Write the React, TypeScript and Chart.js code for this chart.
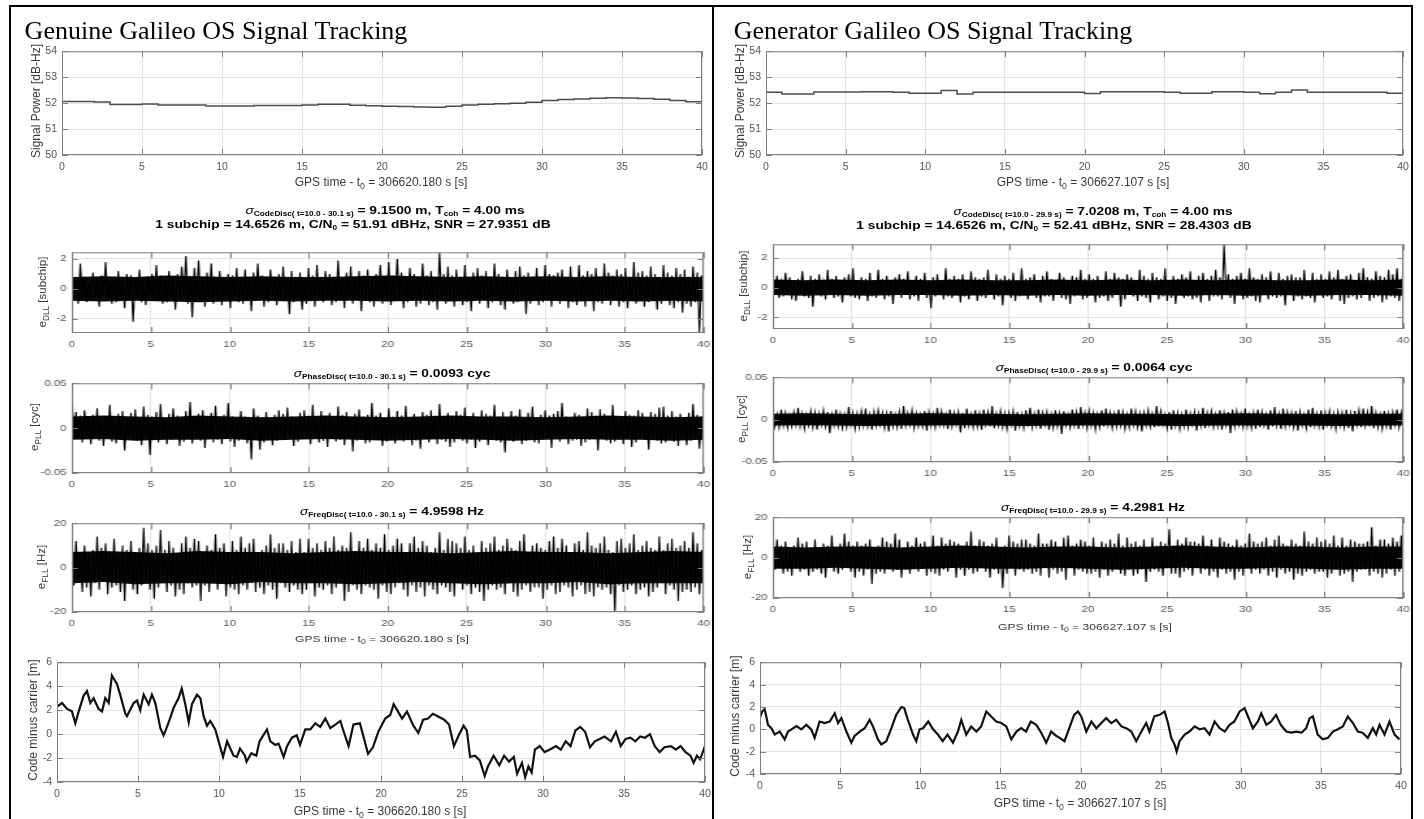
import React, { useEffect, useRef } from 'react';
import { Chart, registerables } from 'chart.js';
Chart.register(...registerables);

const SANS = '"Liberation Sans", Arial, Helvetica, sans-serif';
const SERIF = '"Liberation Serif", "Times New Roman", serif';
const TICK_COLOR = '#555555';
const LABEL_COLOR = '#3a3a3a';
const GRID_COLOR = '#e4e4e4';
const AXIS_COLOR = '#808080';

// ---------------- data ----------------
const X_TICKS = [0, 5, 10, 15, 20, 25, 30, 35, 40];
const POWER_TICKS = [50, 51, 52, 53, 54];
const DLL_TICKS = [-2, 0, 2];
const PLL_TICKS = [-0.05, 0, 0.05];
const FLL_TICKS = [-20, 0, 20];
const CMC_TICKS = [-4, -2, 0, 2, 4, 6];

const POWER_T = [0,1,2,3,4,5,6,7,8,9,10,11,12,13,14,15,16,17,18,19,20,21,22,23,24,25,26,27,28,29,30,31,32,33,34,35,36,37,38,39,40];
const POWER_GENUINE = [52.06,52.06,52.04,51.95,51.95,51.97,51.93,51.93,51.93,51.89,51.89,51.89,51.91,51.91,51.91,51.93,51.96,51.96,51.92,51.9,51.88,51.87,51.85,51.84,51.88,51.93,51.96,51.98,52.0,52.03,52.1,52.14,52.16,52.19,52.21,52.2,52.18,52.15,52.1,52.05,52.02];
const POWER_GENERATOR = [52.42,52.35,52.35,52.43,52.43,52.43,52.44,52.44,52.42,52.38,52.38,52.49,52.35,52.42,52.42,52.42,52.42,52.42,52.42,52.42,52.37,52.44,52.44,52.44,52.44,52.42,52.38,52.38,52.44,52.44,52.42,52.36,52.42,52.51,52.42,52.42,52.42,52.42,52.42,52.38,52.38];

// dense core of the discriminator noise (solid black band), every 2 s
const BAND_T = [0,2,4,6,8,10,12,14,16,18,20,22,24,26,28,30,32,34,36,38,40];
const DLL_GENUINE_HI = [0.8,0.85,0.8,0.9,0.85,0.8,0.85,0.8,0.8,0.85,0.9,0.85,0.8,0.85,0.8,0.85,0.8,0.85,0.8,0.8,0.8];
const DLL_GENUINE_LO = [-0.8,-0.85,-0.8,-0.85,-0.9,-0.85,-0.8,-0.85,-0.8,-0.8,-0.85,-0.8,-0.85,-0.8,-0.85,-0.8,-0.85,-0.8,-0.85,-0.8,-0.85];
const DLL_GENERATOR_HI = [0.55,0.5,0.55,0.5,0.55,0.5,0.55,0.5,0.5,0.55,0.5,0.55,0.5,0.55,0.5,0.55,0.5,0.5,0.55,0.5,0.55];
const DLL_GENERATOR_LO = [-0.5,-0.55,-0.5,-0.55,-0.5,-0.5,-0.55,-0.5,-0.55,-0.5,-0.55,-0.5,-0.5,-0.55,-0.5,-0.55,-0.5,-0.55,-0.5,-0.5,-0.55];
const PLL_GENUINE_HI = [.013,.014,.013,.012,.014,.013,.012,.013,.014,.013,.012,.013,.014,.013,.013,.012,.013,.014,.013,.012,.013];
const PLL_GENUINE_LO = [-.013,-.012,-.014,-.013,-.013,-.012,-.014,-.013,-.012,-.013,-.014,-.013,-.012,-.013,-.014,-.013,-.012,-.013,-.013,-.014,-.013];
const PLL_GENERATOR_HI = [.007,.0075,.007,.0065,.007,.0075,.007,.007,.0065,.007,.0075,.007,.007,.0065,.007,.0075,.007,.007,.0065,.007,.007];
const PLL_GENERATOR_LO = [-.007,-.0065,-.007,-.0075,-.007,-.007,-.0065,-.007,-.0075,-.007,-.007,-.0065,-.007,-.0075,-.007,-.007,-.0065,-.007,-.0075,-.007,-.007];
const FLL_GENUINE_HI = [7,7.5,7,6.5,7.5,7,7,6.5,7,7.5,7,7,6.5,7,7.5,7,7,6.5,7,7.5,7];
const FLL_GENUINE_LO = [-7,-6.5,-7.5,-7,-7,-7.5,-6.5,-7,-7,-7.5,-7,-6.5,-7,-7.5,-7,-7,-6.5,-7.5,-7,-7,-7];
const FLL_GENERATOR_HI = [5.5,5,5.5,5.5,5,5.5,6,5.5,5,5.5,5.5,5,5.5,6,5.5,5,5.5,5.5,5,5.5,5.5];
const FLL_GENERATOR_LO = [-5.5,-5.5,-5,-5.5,-6,-5.5,-5,-5.5,-5.5,-5,-5.5,-6,-5.5,-5,-5.5,-5.5,-5,-5.5,-6,-5.5,-5.5];

const DLL_GENUINE = [0.9,-0.8,0.6,-1.0,1.7,-0.5,0.8,-0.9,0.4,-0.7,1.1,-0.6,0.7,-1.2,0.9,-0.4,1.8,-0.8,0.5,-1.0,0.8,-0.9,1.2,-0.5,0.6,-1.3,1.0,-0.7,0.9,-2.2,0.7,-0.6,1.3,-0.9,0.5,-1.1,0.8,-0.4,1.0,-0.8,1.6,-0.7,0.9,-1.0,0.6,-0.9,1.2,-0.6,0.8,-1.4,1.0,-0.8,1.5,-0.5,2.2,-1.0,0.7,-1.9,1.4,-0.6,1.9,-0.9,0.8,-1.2,1.1,-0.7,1.7,-1.0,0.6,-0.8,1.2,-1.1,0.7,-0.6,1.0,-1.3,0.9,-0.5,1.4,-0.9,0.8,-1.0,1.3,-0.7,0.6,-1.5,1.1,-0.8,1.7,-0.6,0.9,-1.2,0.7,-0.9,1.3,-0.5,0.8,-1.1,1.0,-0.7,1.5,-0.8,0.6,-1.7,1.2,-0.9,0.8,-0.6,1.1,-1.4,0.7,-1.0,1.4,-0.8,0.9,-1.2,1.6,-0.5,0.8,-0.9,1.2,-0.7,1.0,-1.1,0.6,-0.9,1.9,-0.8,0.7,-1.3,1.1,-0.6,1.5,-1.0,0.8,-0.7,1.2,-1.5,0.9,-0.8,1.3,-0.9,0.7,-1.2,1.0,-0.6,1.6,-1.0,0.8,-0.7,1.8,-1.1,0.9,-0.8,2.0,-0.7,1.1,-1.3,0.6,-0.9,1.4,-0.8,1.0,-1.2,0.7,-1.0,1.7,-0.6,0.9,-1.1,1.2,-0.9,0.8,-1.4,2.4,-0.7,1.0,-1.0,1.5,-0.8,0.9,-1.2,1.3,-0.6,0.8,-1.1,1.6,-0.9,0.7,-1.5,1.1,-0.8,1.4,-1.0,0.9,-0.7,1.2,-1.3,0.8,-0.9,1.7,-0.6,1.0,-1.1,0.8,-1.4,1.3,-0.8,0.7,-1.0,1.2,-0.9,1.5,-0.7,0.9,-1.7,1.1,-1.0,0.8,-0.6,1.4,-1.1,0.7,-0.9,1.6,-0.8,1.0,-1.2,0.9,-0.7,1.1,-1.0,1.3,-0.6,0.8,-1.3,1.5,-0.9,0.7,-1.1,1.6,-0.8,0.9,-1.2,1.2,-0.7,1.0,-1.5,1.4,-0.9,0.8,-1.0,1.7,-0.8,1.1,-1.1,0.9,-0.7,1.3,-1.2,1.0,-0.9,1.4,-1.3,0.7,-0.8,1.8,-1.0,1.1,-0.6,1.2,-1.2,0.9,-0.9,1.5,-0.7,1.0,-1.4,0.8,-1.0,1.6,-0.8,1.1,-1.1,0.9,-1.3,1.4,-0.9,1.0,-1.6,1.3,-1.0,0.8,-1.2,1.5,-0.9,1.1,-2.9,0.9,-1.2];

const DLL_GENERATOR = [0.6,-0.5,0.8,-0.7,0.4,-0.6,1.0,-0.5,0.7,-0.8,0.5,-0.9,0.6,-0.4,1.1,-0.6,0.5,-0.7,0.8,-1.3,0.6,-0.5,0.9,-0.6,0.4,-0.8,1.2,-0.5,0.6,-0.7,0.8,-0.6,0.5,-1.0,0.7,-0.5,0.9,-0.6,1.3,-0.7,0.5,-0.8,0.7,-0.5,0.6,-0.9,1.0,-0.6,0.5,-0.7,1.2,-0.5,0.6,-0.8,0.8,-0.6,0.5,-1.1,0.7,-0.5,0.9,-0.7,0.6,-0.5,1.1,-0.8,0.5,-0.6,0.8,-0.9,0.6,-0.5,1.0,-0.7,0.5,-1.4,0.7,-0.6,0.9,-0.5,0.5,-0.8,1.3,-0.6,0.6,-0.7,0.8,-0.5,0.6,-1.0,0.9,-0.6,0.5,-0.8,1.1,-0.5,0.7,-0.9,0.6,-0.6,0.7,-0.7,1.2,-0.5,0.5,-0.8,0.9,-0.6,0.6,-1.2,0.8,-0.5,0.6,-0.7,1.0,-0.9,0.5,-0.6,1.3,-0.5,0.6,-0.8,0.7,-0.5,0.9,-0.7,0.5,-1.0,0.8,-0.6,1.1,-0.6,0.6,-0.9,0.5,-0.5,1.0,-0.7,0.7,-0.8,0.5,-1.1,0.8,-0.6,0.7,-0.5,1.2,-0.8,0.6,-0.7,0.9,-0.5,0.6,-1.0,0.8,-0.7,0.5,-0.6,1.1,-0.9,0.6,-0.7,1.0,-0.5,0.7,-1.3,0.6,-0.8,0.9,-0.5,0.7,-0.6,0.5,-0.9,1.2,-0.6,0.8,-0.7,0.6,-1.0,1.0,-0.5,0.7,-0.8,0.6,-0.6,1.3,-0.9,0.5,-0.7,0.8,-1.1,0.6,-0.5,0.9,-0.7,0.7,-0.6,1.1,-0.8,0.5,-0.7,0.8,-1.0,1.0,-0.5,0.6,-0.9,0.8,-0.6,1.2,-0.6,0.7,-0.8,2.9,-0.5,0.9,-0.7,0.6,-1.1,0.8,-0.5,1.0,-0.8,0.6,-0.7,1.3,-0.6,0.7,-0.9,0.6,-1.0,0.9,-0.5,0.7,-0.8,1.1,-0.6,0.5,-0.7,1.0,-0.6,0.6,-1.2,0.8,-0.5,0.9,-0.9,0.7,-0.6,0.7,-0.8,1.2,-0.6,0.5,-0.7,1.0,-1.0,0.6,-0.5,0.9,-0.7,0.6,-0.6,1.1,-0.8,0.7,-0.5,1.2,-0.9,0.6,-1.1,0.8,-0.7,0.9,-0.6,0.5,-0.8,1.0,-0.7,1.3,-0.5,0.7,-0.9,0.6,-0.7,1.1,-0.6,0.8,-1.0,0.7,-0.8,1.2,-0.6,0.9,-0.7,1.3,-0.9,0.6,-0.8];

const PLL_GENUINE = [.041,-.012,.018,-.010,.014,-.016,.020,-.008,.012,-.018,.015,-.011,.022,-.014,.010,-.020,.013,-.009,.026,-.015,.011,-.017,.016,-.012,.019,-.025,.012,-.010,.017,-.013,.021,-.014,.010,-.019,.024,-.011,.015,-.030,.013,-.012,.018,-.016,.027,-.010,.012,-.018,.016,-.013,.022,-.011,.014,-.020,.011,-.015,.019,-.012,.029,-.017,.013,-.010,.016,-.014,.020,-.022,.012,-.011,.017,-.016,.025,-.013,.011,-.018,.015,-.012,.028,-.015,.013,-.021,.010,-.014,.019,-.011,.013,-.017,.012,-.035,.022,-.010,.014,-.024,.012,-.016,.018,-.012,.010,-.019,.015,-.014,.020,-.011,.016,-.013,.023,-.010,.013,-.020,.011,-.015,.017,-.012,.020,-.012,.014,-.018,.026,-.011,.012,-.016,.019,-.014,.013,-.021,.017,-.012,.011,-.015,.024,-.013,.015,-.019,.018,-.010,.012,-.026,.016,-.014,.021,-.012,.013,-.017,.015,-.016,.028,-.011,.014,-.013,.017,-.020,.011,-.015,.022,-.013,.013,-.017,.019,-.012,.014,-.015,.025,-.011,.012,-.019,.016,-.014,.011,-.023,.018,-.012,.015,-.016,.020,-.011,.014,-.018,.027,-.013,.012,-.015,.017,-.021,.013,-.016,.019,-.012,.015,-.014,.023,-.017,.011,-.013,.017,-.022,.012,-.015,.020,-.011,.016,-.019,.014,-.012,.026,-.014,.013,-.016,.018,-.027,.012,-.013,.019,-.015,.014,-.012,.021,-.018,.011,-.014,.017,-.011,.024,-.016,.012,-.017,.015,-.013,.020,-.012,.014,-.022,.016,-.011,.019,-.015,.028,-.011,.013,-.018,.011,-.014,.017,-.013,.015,-.020,.012,-.016,.022,-.013,.018,-.012,.014,-.025,.021,-.011,.016,-.014,.013,-.017,.026,-.015,.012,-.013,.013,-.018,.019,-.012,.015,-.021,.014,-.016,.020,-.012,.017,-.013,.012,-.024,.018,-.011,.016,-.014,.023,-.017,.024,-.016,.014,-.012,.019,-.015,.013,-.020,.016,-.011,.012,-.019,.017,-.014,.027,-.012,.015,-.023,.013,-.030];

const PLL_GENERATOR = [.010,-.008,.006,-.009,.012,-.007,.008,-.010,.005,-.008,.009,-.006,.014,-.008,.007,-.011,.006,-.007,.010,-.009,.008,-.012,.007,-.006,.011,-.008,.009,-.016,.006,-.007,.012,-.008,.007,-.010,.006,-.009,.015,-.006,.008,-.011,.007,-.009,.010,-.007,.013,-.008,.006,-.012,.009,-.007,.011,-.006,.008,-.010,.007,-.014,.010,-.008,.006,-.009,.009,-.011,.016,-.007,.008,-.006,.011,-.010,.007,-.008,.006,-.008,.010,-.013,.009,-.007,.007,-.009,.014,-.006,.010,-.007,.006,-.011,.012,-.008,.008,-.006,.009,-.015,.008,-.010,.013,-.007,.006,-.009,.011,-.008,.007,-.012,.012,-.006,.009,-.008,.016,-.010,.007,-.007,.010,-.009,.007,-.011,.008,-.006,.010,-.013,.009,-.008,.006,-.010,.011,-.008,.014,-.009,.007,-.007,.012,-.011,.008,-.006,.009,-.012,.006,-.010,.011,-.008,.007,-.017,.010,-.007,.006,-.009,.012,-.007,.009,-.011,.015,-.006,.008,-.010,.010,-.007,.008,-.012,.006,-.009,.011,-.008,.013,-.006,.008,-.010,.007,-.008,.012,-.007,.009,-.011,.006,-.009,.013,-.006,.010,-.009,.007,-.014,.008,-.007,.011,-.008,.007,-.009,.016,-.008,.010,-.006,.006,-.010,.009,-.012,.011,-.007,.008,-.011,.006,-.008,.012,-.009,.007,-.006,.009,-.013,.007,-.007,.014,-.010,.008,-.006,.010,-.009,.006,-.008,.011,-.012,.008,-.007,.009,-.016,.012,-.008,.010,-.006,.007,-.009,.013,-.008,.006,-.010,.008,-.011,.012,-.009,.009,-.007,.006,-.012,.011,-.008,.015,-.007,.007,-.011,.013,-.008,.009,-.006,.008,-.009,.010,-.013,.009,-.007,.006,-.010,.012,-.009,.014,-.007,.007,-.008,.011,-.012,.008,-.006,.010,-.008,.007,-.011,.009,-.007,.008,-.009,.012,-.010,.007,-.014,.010,-.006,.011,-.009,.013,-.007,.009,-.008,.016,-.010,.008,-.009,.006,-.011,.010,-.008,.007,-.012,.009,-.006,.012,-.009,.008,-.010];

const FLL_GENUINE = [9,-8,12,-6,7,-11,10,-9,6,-13,8,-7,14,-10,9,-6,11,-12,7,-9,13,-8,6,-11,10,-15,8,-7,12,-10,7,-12,9,-8,18,-6,11,-10,8,-14,10,-9,17,-7,8,-11,12,-8,9,-13,6,-10,11,-12,14,-7,9,-9,13,-8,12,-15,7,-8,10,-11,8,-6,15,-10,9,-7,11,-13,7,-9,12,-10,8,-12,14,-8,9,-10,11,-7,13,-11,7,-9,8,-12,10,-8,15,-10,9,-14,11,-7,11,-9,8,-11,12,-8,7,-10,13,-12,7,-10,13,-7,9,-13,11,-9,8,-10,12,-8,9,-12,14,-9,8,-7,10,-15,9,-11,16,-8,7,-10,12,-12,9,-8,13,-9,8,-10,11,-14,9,-8,15,-11,8,-12,10,-9,13,-7,11,-10,7,-13,11,-8,14,-11,9,-9,12,-13,10,-8,7,-10,9,-12,16,-8,8,-9,13,-11,12,-13,11,-7,9,-10,14,-8,8,-12,10,-9,7,-11,12,-15,9,-10,11,-8,14,-10,8,-9,10,-12,13,-7,9,-11,8,-13,12,-10,15,-8,7,-11,10,-9,11,-9,9,-14,8,-10,12,-8,14,-12,9,-11,13,-8,10,-9,7,-13,11,-10,12,-8,8,-12,16,-11,10,-13,9,-9,11,-10,14,-9,8,-12,7,-20,12,-8,13,-11,9,-10,11,-8,15,-12,8,-10,10,-9,12,-13,9,-11,8,-9,14,-7,8,-12,11,-8,13,-10,9,-15,10,-11,12,-10,9,-11,16,-9,11,-12,8,-14];

const FLL_GENERATOR = [7,-6,9,-5,6,-8,8,-7,5,-9,6,-5,10,-7,7,-6,8,-9,5,-7,9,-6,5,-8,7,-10,6,-5,11,-7,5,-8,7,-6,12,-5,8,-7,6,-10,8,-7,6,-9,7,-6,9,-13,5,-8,6,-7,10,-8,8,-5,7,-7,12,-6,9,-10,5,-6,8,-8,6,-5,10,-7,7,-5,8,-9,5,-7,11,-8,6,-9,10,-6,7,-7,9,-5,8,-10,7,-6,5,-9,8,-6,13,-8,6,-7,9,-5,8,-7,6,-10,7,-6,10,-8,5,-15,6,-8,11,-5,8,-9,7,-6,9,-7,9,-6,7,-8,6,-7,12,-9,7,-5,7,-10,9,-6,8,-8,5,-7,10,-11,11,-5,6,-9,7,-6,9,-7,8,-8,6,-8,10,-7,5,-10,8,-6,7,-9,9,-7,7,-5,12,-8,6,-9,10,-6,7,-9,8,-8,6,-6,9,-12,5,-7,10,-6,6,-7,8,-9,7,-5,14,-8,6,-8,9,-10,7,-7,10,-6,8,-9,8,-5,7,-8,11,-6,6,-9,9,-7,5,-10,10,-6,8,-8,7,-7,6,-11,9,-7,6,-9,7,-5,12,-8,8,-6,7,-8,8,-6,10,-9,6,-7,9,-10,11,-6,7,-8,6,-7,9,-11,7,-8,6,-9,13,-7,8,-6,7,-8,10,-7,8,-7,9,-10,7,-8,11,-6,6,-9,10,-8,6,-7,9,-12,8,-7,7,-6,7,-6,8,-9,15,-7,6,-8,9,-10,9,-8,7,-6,10,-9,8,-7,11,-8];

const CMC_GENUINE_T = [0,0.31,0.62,0.92,1.13,1.34,1.64,1.85,2.06,2.26,2.57,2.78,2.98,3.19,3.39,3.7,3.9,4.22,4.32,4.73,4.94,5.14,5.35,5.66,5.86,6.07,6.38,6.58,6.79,7.0,7.2,7.5,7.7,7.92,8.13,8.33,8.64,8.85,9.05,9.26,9.46,9.77,10.08,10.25,10.5,10.7,10.9,11.1,11.3,11.6,11.7,12.0,12.3,12.5,12.96,13.17,13.48,13.68,13.99,14.2,14.5,14.8,15.0,15.33,15.64,15.94,16.25,16.56,16.87,17.18,17.49,17.7,18.0,18.3,18.7,19.2,19.5,19.85,20.26,20.57,20.78,21.0,21.3,21.6,22.0,22.3,22.6,22.9,23.2,23.5,23.9,24.2,24.5,24.8,25.1,25.3,25.5,25.8,26.1,26.4,26.6,26.95,27.3,27.6,27.9,28.2,28.4,28.7,28.9,29.1,29.3,29.5,29.8,30.1,30.4,30.8,31.1,31.4,31.7,32.0,32.3,32.6,32.9,33.2,33.5,33.8,34.2,34.5,34.8,35.1,35.4,35.7,36.0,36.3,36.6,36.9,37.2,37.5,37.9,38.2,38.5,38.8,39.1,39.3,39.5,39.7,40.0];
const CMC_GENUINE = [2.3,2.6,2.1,1.9,0.9,1.9,3.2,3.6,2.6,3.0,2.1,1.9,3.0,2.6,4.9,4.2,3.3,1.7,1.5,2.6,2.8,2.0,3.3,2.5,3.3,2.6,0.5,-0.1,0.6,1.4,2.2,3.0,3.8,2.5,1.0,2.5,3.3,3.0,1.5,0.7,1.1,0.4,-1.1,-1.9,-0.6,-1.2,-1.8,-1.9,-1.2,-1.8,-2.3,-1.6,-1.8,-0.6,0.4,-0.6,-0.9,-0.8,-1.9,-1.0,-0.3,-0.1,-0.9,0.4,0.4,0.9,0.6,1.3,0.5,0.8,1.1,0.2,-1.0,0.8,0.9,-1.65,-1.1,0.25,1.3,1.6,2.5,2.0,1.3,1.9,0.7,0.1,1.2,1.3,1.7,1.5,1.2,0.8,-1.0,-0.1,0.7,0.3,-1.9,-1.8,-2.2,-3.5,-2.7,-1.8,-2.6,-1.8,-2.3,-1.9,-3.3,-2.4,-3.6,-2.7,-3.2,-1.3,-1.0,-1.5,-1.3,-1.0,-1.3,-0.6,-1.0,0.3,0.6,0.2,-1.1,-0.6,-0.4,-0.2,-0.6,0.2,-1.0,-0.4,-0.3,-0.6,-0.2,-0.3,0.0,-1.0,-1.5,-1.1,-1.0,-1.3,-1.0,-1.5,-1.8,-2.4,-1.8,-2.1,-1.0];

const CMC_GENERATOR_T = [0,0.13,0.29,0.4,0.5,0.71,0.92,1.23,1.54,1.75,1.96,2.27,2.58,2.89,3.2,3.41,3.72,4.04,4.35,4.66,4.87,5.08,5.39,5.7,5.9,6.22,6.53,6.84,7.05,7.36,7.57,7.88,8.2,8.5,8.82,9.0,9.23,9.55,9.75,9.96,10.17,10.5,10.8,11.1,11.4,11.7,12.04,12.35,12.56,12.87,13.18,13.5,13.8,14.12,14.43,14.74,15.06,15.37,15.68,16.0,16.3,16.6,16.9,17.24,17.55,17.86,18.17,18.5,18.7,19.0,19.3,19.6,19.84,20.05,20.36,20.68,20.99,21.3,21.6,21.92,22.23,22.55,22.86,23.17,23.48,23.8,24.1,24.3,24.6,24.94,25.25,25.46,25.66,25.87,26.0,26.18,26.5,26.8,27.12,27.43,27.74,28.05,28.37,28.68,29.0,29.3,29.6,29.93,30.24,30.45,30.76,31.07,31.28,31.6,31.9,32.2,32.5,32.84,33.15,33.46,33.8,34.08,34.3,34.5,34.8,35.12,35.44,35.75,36.06,36.37,36.68,37.0,37.3,37.6,37.93,38.24,38.45,38.66,38.97,39.28,39.6,39.9];
const CMC_GENERATOR = [1.06,1.6,1.8,1.1,0.4,0.1,-0.47,-0.2,-0.9,-0.2,0.0,0.3,0.0,0.4,0.0,-0.76,0.7,0.56,0.7,1.44,0.56,1.0,-0.2,-1.2,-0.6,-0.2,0.1,0.85,0.26,-0.9,-1.35,-1.06,0.1,1.3,2.0,1.9,0.85,-0.47,-1.06,0.0,0.1,0.7,0.0,-0.47,-1.06,-0.47,-1.2,-0.2,0.85,-0.47,0.26,-0.2,0.26,1.6,1.15,0.7,0.56,0.26,-0.9,-0.2,0.1,-0.2,0.7,0.4,-0.3,-1.2,-0.2,-0.6,-0.76,-1.06,0.1,1.3,1.6,1.15,-0.2,0.7,0.1,0.56,1.0,0.56,0.85,0.26,0.1,-0.2,-1.06,-0.2,0.56,-0.2,1.15,1.3,1.6,0.56,-0.76,-1.35,-2.0,-1.06,-0.47,-0.2,0.26,0.0,0.1,-0.47,0.7,0.1,-0.2,0.4,0.7,1.6,1.9,1.15,0.1,0.7,1.44,0.4,0.7,1.3,0.4,-0.2,-0.3,-0.2,-0.3,0.1,1.0,1.15,-0.47,-0.9,-0.76,-0.2,0.0,0.26,1.15,0.56,-0.2,-0.3,-0.76,0.1,-0.47,0.4,-0.47,0.7,-0.47,-0.9];

// ---------------- chart panel ----------------
type Series = { x: number[]; y: number[]; color: string; width: number; stepped?: boolean; fillNext?: boolean };
type PanelProps = {
  box: [number, number, number, number];
  s: number;
  yMin: number;
  yMax: number;
  yTicks: number[];
  series: Series[];
  tickSize: number;
  xPad: number;
  yPad: number;
  fmt?: (v: number) => string;
};

const boxPlugin = {
  id: 'matlabBox',
  afterDatasetsDraw(chart: any) {
    const { ctx, chartArea: a, scales } = chart;
    const s = chart.options.plugins.matlabBox.s;
    const tl = 6;
    ctx.save();
    ctx.strokeStyle = AXIS_COLOR;
    ctx.lineWidth = 1;
    ctx.strokeRect(a.left + 0.5, a.top + 0.5, a.right - a.left - 1, a.bottom - a.top - 1);
    ctx.beginPath();
    for (const t of scales.x.ticks) {
      const px = Math.round(scales.x.getPixelForValue(t.value)) + 0.5;
      ctx.moveTo(px, a.bottom);
      ctx.lineTo(px, a.bottom - tl);
      ctx.moveTo(px, a.top);
      ctx.lineTo(px, a.top + tl);
    }
    for (const t of scales.y.ticks) {
      const py = Math.round(scales.y.getPixelForValue(t.value)) + 0.5;
      ctx.moveTo(a.left, py);
      ctx.lineTo(a.left + tl / s, py);
      ctx.moveTo(a.right, py);
      ctx.lineTo(a.right - tl / s, py);
    }
    ctx.stroke();
    ctx.restore();
  },
};

function Panel(p: PanelProps) {
  const ref = useRef<HTMLCanvasElement>(null);
  const L = 46, R = 14, T = 8, B = 28;
  const [x0, x1, y0, y1] = p.box;
  const w = Math.round((x1 - x0) / p.s) + L + R;
  const h = y1 - y0 + T + B;
  useEffect(() => {
    if (!ref.current) return;
    const chart = new Chart(ref.current, {
      type: 'line',
      data: {
        datasets: p.series.map((sr) => ({
          data: sr.x.map((x, i) => ({ x, y: sr.y[i] })),
          borderColor: sr.color,
          backgroundColor: sr.color,
          borderWidth: sr.width,
          pointRadius: 0,
          stepped: sr.stepped ? 'before' : false,
          tension: 0,
          fill: sr.fillNext ? '+1' : false,
          borderJoinStyle: 'miter',
        })),
      },
      options: {
        responsive: false,
        animation: false,
        devicePixelRatio: 1,
        layout: { padding: { left: 0, right: R, top: T, bottom: 0 } },
        plugins: {
          legend: { display: false },
          tooltip: { enabled: false },
          title: { display: false },
          matlabBox: { s: p.s },
        } as any,
        scales: {
          x: {
            type: 'linear',
            min: 0,
            max: 40,
            afterFit: (sc: any) => { sc.height = B; },
            afterBuildTicks: (sc: any) => { sc.ticks = X_TICKS.map((v) => ({ value: v })); },
            ticks: { font: { family: SANS, size: p.tickSize }, color: TICK_COLOR, padding: p.xPad, maxRotation: 0, autoSkip: false },
            grid: { color: GRID_COLOR, drawTicks: false, lineWidth: 1 },
            border: { display: false },
          },
          y: {
            type: 'linear',
            min: p.yMin,
            max: p.yMax,
            afterFit: (sc: any) => { sc.width = L; },
            afterBuildTicks: (sc: any) => { sc.ticks = p.yTicks.map((v) => ({ value: v })); },
            ticks: {
              font: { family: SANS, size: p.tickSize },
              color: TICK_COLOR,
              padding: p.yPad,
              autoSkip: false,
              callback: (v: any) => (p.fmt ? p.fmt(Number(v)) : String(v)),
            },
            grid: { color: GRID_COLOR, drawTicks: false, lineWidth: 1 },
            border: { display: false },
          },
        },
      },
      plugins: [boxPlugin],
    } as any);
    return () => chart.destroy();
  }, []);
  return (
    <canvas
      ref={ref}
      width={w}
      height={h}
      style={{
        position: 'absolute',
        left: x0 - L * p.s,
        top: y0 - T,
        width: w,
        height: h,
        transform: `scaleX(${p.s})`,
        transformOrigin: '0 0',
      }}
    />
  );
}

// ---------------- text helpers ----------------
function Label(props: any) {
  const { x, y, s = 1, size, bold, rot, color = LABEL_COLOR, family = SANS, children } = props;
  return (
    <div
      style={{
        position: 'absolute',
        left: x,
        top: y,
        transform: `translate(-50%,-50%) scaleX(${s})${rot ? ' rotate(-90deg)' : ''}`,
        fontFamily: family,
        fontSize: size,
        fontWeight: bold ? 700 : 400,
        color,
        whiteSpace: 'nowrap',
        lineHeight: 1,
      }}
    >
      {children}
    </div>
  );
}
const Sub = ({ children, f = 0.72 }: any) => (
  <span style={{ fontSize: `${f}em`, position: 'relative', top: '0.35em' }}>{children}</span>
);
const Sig = () => <span style={{ fontStyle: 'italic', fontWeight: 400 }}>σ</span>;

const noise = (vals: number[]) => vals.map((_, i) => (i * 40) / (vals.length - 1));

const fmtPll = (v: number) => (v === 0 ? '0' : v.toFixed(2));

function noiseSeries(vals: number[], hi: number[], lo: number[]): Series[] {
  return [
    { x: noise(vals), y: vals, color: '#000000', width: 1.1 },
    { x: BAND_T, y: hi, color: '#0a0a0a', width: 0, fillNext: true },
    { x: BAND_T, y: lo, color: '#0a0a0a', width: 0 },
  ];
}

function Column(props: any) {
  const c = props.c;
  const k = props.k;
  return (
    <>
      <Panel box={c.p1} s={1} yMin={50} yMax={54} yTicks={POWER_TICKS} tickSize={10.5} xPad={6} yPad={5}
        series={[{ x: POWER_T, y: c.power, color: '#4d4d4d', width: 1.5, stepped: true }]} />
      <Panel box={c.dll} s={1.3} yMin={c.dllMin} yMax={c.dllMax} yTicks={DLL_TICKS} tickSize={8.8} xPad={6} yPad={4}
        series={noiseSeries(c.dll_, c.dllHi, c.dllLo)} />
      <Panel box={c.pll} s={1.3} yMin={-0.05} yMax={0.05} yTicks={PLL_TICKS} tickSize={8.8} xPad={6} yPad={4} fmt={fmtPll}
        series={noiseSeries(c.pll_, c.pllHi, c.pllLo)} />
      <Panel box={c.fll} s={1.3} yMin={-20} yMax={20} yTicks={FLL_TICKS} tickSize={8.8} xPad={6} yPad={4}
        series={noiseSeries(c.fll_, c.fllHi, c.fllLo)} />
      <Panel box={c.p5} s={1} yMin={-4} yMax={6} yTicks={CMC_TICKS} tickSize={10.5} xPad={6} yPad={5}
        series={[{ x: c.cmcT, y: c.cmc, color: '#111111', width: 2.2 }]} />

      <Label x={c.titleX} y={31} family={SERIF} size={26} color="#000">{c.title}</Label>

      <Label x={c.p1YL[0]} y={c.p1YL[1]} size={12} rot>Signal Power [dB-Hz]</Label>
      <Label x={c.p1XL[0]} y={c.p1XL[1]} size={12}>GPS time - t<Sub>0</Sub> = {k.t0} s [s]</Label>

      <Label x={c.dllT1[0]} y={c.dllT1[1]} s={1.3} size={10.6} bold color="#000">
        <Sig /><Sub f={0.6}>CodeDisc( t=10.0 - {k.tEnd} s)</Sub> = {k.code} m, T<Sub f={0.6}>coh</Sub> = 4.00 ms
      </Label>
      <Label x={c.dllT2[0]} y={c.dllT2[1]} s={1.3} size={10.6} bold color="#000">
        1 subchip = 14.6526 m, C/N<Sub f={0.6}>0</Sub> = {k.cn0} dBHz, SNR = {k.snr} dB
      </Label>
      <Label x={c.dllYL[0]} y={c.dllYL[1]} size={11.5} rot>e<Sub>DLL</Sub> [subchip]</Label>

      <Label x={c.pllT[0]} y={c.pllT[1]} s={1.3} size={10.6} bold color="#000">
        <Sig /><Sub f={0.6}>PhaseDisc( t=10.0 - {k.tEnd} s)</Sub> = {k.phase} cyc
      </Label>
      <Label x={c.pllYL[0]} y={c.pllYL[1]} size={11.5} rot>e<Sub>PLL</Sub> [cyc]</Label>

      <Label x={c.fllT[0]} y={c.fllT[1]} s={1.3} size={10.6} bold color="#000">
        <Sig /><Sub f={0.6}>FreqDisc( t=10.0 - {k.tEnd} s)</Sub> = {k.freq} Hz
      </Label>
      <Label x={c.fllYL[0]} y={c.fllYL[1]} size={11.5} rot>e<Sub>FLL</Sub> [Hz]</Label>
      <Label x={c.fllXL[0]} y={c.fllXL[1]} s={1.3} size={9.3}>GPS time - t<Sub>0</Sub> = {k.t0} s [s]</Label>

      <Label x={c.p5YL[0]} y={c.p5YL[1]} size={12} rot>Code minus carrier [m]</Label>
      <Label x={c.p5XL[0]} y={c.p5XL[1]} size={12}>GPS time - t<Sub>0</Sub> = {k.t0} s [s]</Label>
    </>
  );
}

const LEFT = {
  title: 'Genuine Galileo OS Signal Tracking', titleX: 24 + 192,
  p1: [62, 702, 48, 155], dll: [72, 704, 251, 333], pll: [72, 704, 382, 473], fll: [72, 704, 522, 612], p5: [57, 705, 659, 782],
  dllMin: -2.96, dllMax: 2.45,
  power: POWER_GENUINE, dll_: DLL_GENUINE, pll_: PLL_GENUINE, fll_: FLL_GENUINE, cmcT: CMC_GENUINE_T, cmc: CMC_GENUINE,
  dllHi: DLL_GENUINE_HI, dllLo: DLL_GENUINE_LO, pllHi: PLL_GENUINE_HI, pllLo: PLL_GENUINE_LO, fllHi: FLL_GENUINE_HI, fllLo: FLL_GENUINE_LO,
  p1YL: [36, 101], p1XL: [381, 182], dllT1: [385, 209.5], dllT2: [353, 223.5], dllYL: [43, 292],
  pllT: [392, 373], pllYL: [35, 427], fllT: [392, 511], fllYL: [42, 567], fllXL: [382, 640],
  p5YL: [33, 720], p5XL: [380, 811],
};
const RIGHT = {
  title: 'Generator Galileo OS Signal Tracking', titleX: 729 + 204,
  p1: [766, 1403, 48, 155], dll: [773, 1403, 243, 329], pll: [773, 1403, 376, 462], fll: [773, 1403, 516, 598], p5: [760, 1401, 659, 774],
  dllMin: -2.8, dllMax: 2.93,
  power: POWER_GENERATOR, dll_: DLL_GENERATOR, pll_: PLL_GENERATOR, fll_: FLL_GENERATOR, cmcT: CMC_GENERATOR_T, cmc: CMC_GENERATOR,
  dllHi: DLL_GENERATOR_HI, dllLo: DLL_GENERATOR_LO, pllHi: PLL_GENERATOR_HI, pllLo: PLL_GENERATOR_LO, fllHi: FLL_GENERATOR_HI, fllLo: FLL_GENERATOR_LO,
  p1YL: [740, 101], p1XL: [1083, 182], dllT1: [1093, 210.5], dllT2: [1054, 225], dllYL: [744, 286],
  pllT: [1094, 367], pllYL: [742, 419], fllT: [1093, 507], fllYL: [748, 557], fllXL: [1085, 628],
  p5YL: [735, 716], p5XL: [1080, 803],
};
const KEY_L = { t0: '306620.180', tEnd: '30.1', code: '9.1500', cn0: '51.91', snr: '27.9351', phase: '0.0093', freq: '4.9598' };
const KEY_R = { t0: '306627.107', tEnd: '29.9', code: '7.0208', cn0: '52.41', snr: '28.4303', phase: '0.0064', freq: '4.2981' };

function Line({ x, y, w, h }: any) {
  return <div style={{ position: 'absolute', left: x, top: y, width: w, height: h, background: '#000', zIndex: 10 }} />;
}

export default function App() {
  return (
    <div style={{ position: 'absolute', left: 0, top: 0, width: 1424, height: 819, background: '#fff', overflow: 'hidden' }}>
      <Column c={LEFT} k={KEY_L} />
      <Column c={RIGHT} k={KEY_R} />
      <Line x={9} y={5} w={1404} h={2} />
      <Line x={9} y={5} w={2} h={814} />
      <Line x={712} y={5} w={2} h={814} />
      <Line x={1411} y={5} w={2} h={814} />
    </div>
  );
}
